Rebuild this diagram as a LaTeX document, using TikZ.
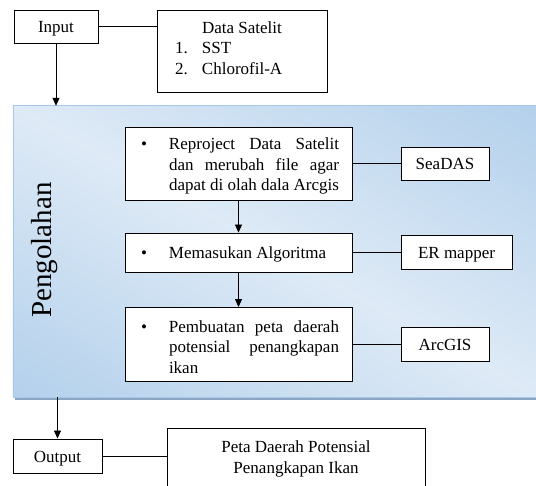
\documentclass[tikz,border=0pt]{standalone}
\usepackage{fontspec}
\setmainfont{Liberation Serif}
\usetikzlibrary{arrows.meta}
\definecolor{paneldark}{RGB}{157,195,230}
\definecolor{panellight}{RGB}{222,234,246}
\definecolor{panelline}{RGB}{168,200,234}
\definecolor{shadowc}{RGB}{140,165,195}
\pgfdeclareverticalshading{panelshade}{100bp}{color(0bp)=(paneldark); color(12bp)=(paneldark); color(50bp)=(panellight); color(88bp)=(paneldark); color(100bp)=(paneldark)}
\newcommand{\lowr}[1]{\raisebox{-2.5pt}[\height][\depth]{#1}}
\newcommand{\bulitem}[1]{\hspace*{16pt}\makebox[28pt][l]{\textbullet}\parbox[t]{170pt}{#1}\hspace*{13pt}}
\begin{document}
\begin{tikzpicture}[x=1pt,y=-1pt,
  box/.style={draw=black,line width=0.9pt,fill=white,inner sep=0pt,font=\fontsize{17}{20.5}\selectfont},
  one/.style={text height=14pt,text depth=1pt},
  conn/.style={line width=0.8pt},
  arr/.style={line width=0.8pt,-{Triangle[length=8pt,width=7pt]}}]
\clip (0,0) rectangle (536,486);
\fill[white] (0,0) rectangle (536,486);
% panel
\node[minimum width=527pt,minimum height=291pt,inner sep=0pt] (panel) at (276.5,251.5) {};
\fill[shadowc] ([shift={(2,3)}]panel.north west) rectangle ([shift={(2,3)}]panel.south east);
\begin{scope}
  \clip (panel.north west) rectangle (panel.south east);
  \shade[shading=panelshade,transform canvas={rotate around={-28.9:(panel.center)}}]
    ([shift={(-340,-255)}]panel.center) rectangle ([shift={(340,255)}]panel.center);
\end{scope}
\draw[panelline,line width=0.6pt] (panel.north west) rectangle (panel.south east);
\node[rotate=90,font=\fontsize{29}{34}\selectfont] (lbl) at (45,250) {Pengolahan};
% top
\node[box,one,minimum width=84pt,minimum height=33pt] (input) at (56,26.5) {Input};
\node[box,minimum width=170pt,minimum height=82pt] (data) at (242,51)
  {\parbox{170pt}{\centering Data Satelit\par\raggedright
   \hspace*{18pt}\makebox[27pt][l]{1.}SST\par
   \hspace*{18pt}\makebox[27pt][l]{2.}Chlorofil-A\par\vspace*{6pt}}};
% process boxes
\node[box,minimum width=227pt,minimum height=73pt] (b1) at (238.5,163.5)
  {\lowr{\bulitem{Reproject Data Satelit\linebreak dan merubah file agar\linebreak dapat di olah dala Arcgis}}};
\node[box,one,minimum width=227pt,minimum height=39pt] (b2) at (238.5,252.5)
  {\bulitem{Memasukan Algoritma}};
\node[box,minimum width=227pt,minimum height=74pt] (b3) at (238.5,344.5)
  {\lowr{\bulitem{Pembuatan peta daerah\linebreak potensial penangkapan\linebreak ikan}}};
% tools
\node[box,one,minimum width=88pt,minimum height=33pt] (sea) at (445,163.5) {SeaDAS};
\node[box,one,minimum width=111pt,minimum height=34pt] (er) at (456.5,252.5) {ER mapper};
\node[box,one,minimum width=88pt,minimum height=34pt] (arc) at (445,344.5) {ArcGIS};
% bottom
\node[box,one,minimum width=89pt,minimum height=34pt] (output) at (57.5,456) {Output};
\node[box,minimum width=258pt,minimum height=62pt] (peta) at (296,459)
  {\parbox{250pt}{\centering Peta Daerah Potensial\\Penangkapan Ikan}};
% connectors
\draw[conn] (input.east) -- (input.east -| data.west);
\draw[arr] (input.south) -- (input.south |- panel.north);
\draw[arr] (b1.south) -- (b2.north);
\draw[arr] (b2.south) -- (b3.north);
\draw[conn] (b1.east) -- (b1.east -| sea.west);
\draw[conn] (b2.east) -- (b2.east -| er.west);
\draw[conn] (b3.east) -- (b3.east -| arc.west);
\draw[arr] (output.north |- panel.south) -- (output.north);
\draw[conn] (output.east) -- (output.east -| peta.west);
\end{tikzpicture}
\end{document}
